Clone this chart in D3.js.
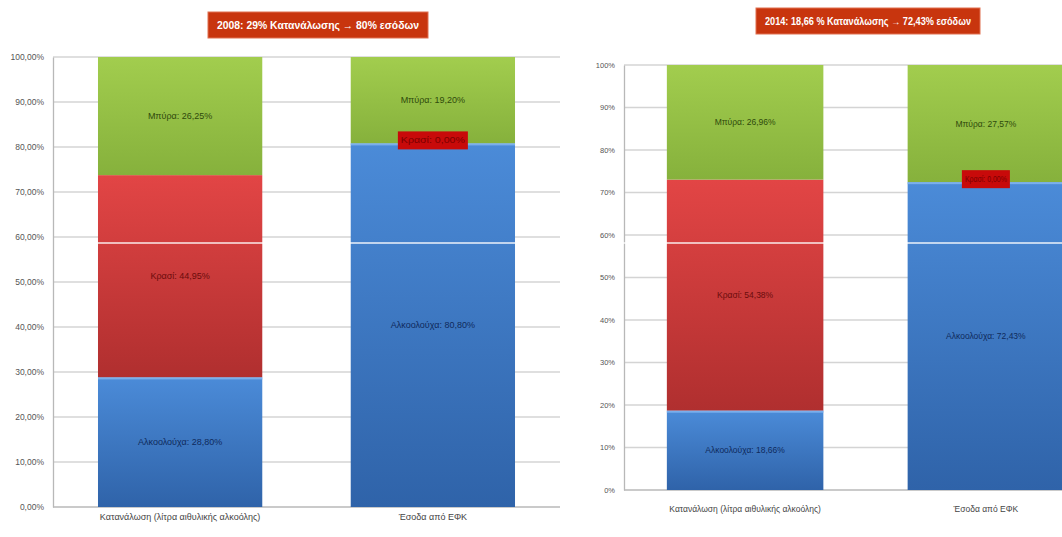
<!DOCTYPE html>
<html><head><meta charset="utf-8">
<script src="https://cdn.jsdelivr.net/npm/d3@7/dist/d3.min.js"></script>
<style>body{margin:0;background:#fff;}svg{display:block;font-family:"Liberation Sans Narrow","Liberation Sans",Arial,sans-serif;}</style>
</head><body><svg id="c" width="1062" height="537"></svg>
<script>
const categories = ["Κατανάλωση (λίτρα αιθυλικής αλκοόλης)", "Έσοδα από ΕΦΚ"];
const seriesNames = ["Αλκοολούχα", "Κρασί", "Μπύρα"];
const alcohol2008 = [28.80, 80.80];
const wine2008 = [44.95, 0.00];
const beer2008 = [26.25, 19.20];
const alcohol2014 = [18.66, 72.43];
const wine2014 = [54.38, 0.00];
const beer2014 = [26.96, 27.57];
const tickValues = [0, 10, 20, 30, 40, 50, 60, 70, 80, 90, 100];
const ticks2008 = ["0,00%", "10,00%", "20,00%", "30,00%", "40,00%", "50,00%", "60,00%", "70,00%", "80,00%", "90,00%", "100,00%"];
const ticks2014 = ["0%", "10%", "20%", "30%", "40%", "50%", "60%", "70%", "80%", "90%", "100%"];
const title2008 = "2008: 29% Κατανάλωσης \u2192 80% εσόδων";
const title2014 = "2014:  18,66 % Κατανάλωσης \u2192 72,43% εσόδων";

const svg = d3.select("#c");
const defs = svg.append("defs");
const grads = [
  {id:"gBlue", c0:"#4b8bd8", c1:"#2f63a9"},
  {id:"gRed", c0:"#e24545", c1:"#b02f2f"},
  {id:"gGreen", c0:"#a2cd4e", c1:"#86b13c"}
];
grads.forEach(g => {
  const lg = defs.append("linearGradient").attr("id", g.id).attr("x1",0).attr("y1",0).attr("x2",0).attr("y2",1);
  lg.append("stop").attr("offset","0%").attr("stop-color", g.c0);
  lg.append("stop").attr("offset","100%").attr("stop-color", g.c1);
});
const fills = ["url(#gBlue)", "url(#gRed)", "url(#gGreen)"];
const labelColors = ["#0f2a5c", "#6a0c0c", "#2f4a0c"];

const fmt = v => d3.format(".2f")(v).replace(".", ",") + "%";

function drawChart(cfg) {
  const g = svg.append("g");
  const y = d3.scaleLinear().domain([0, 100]).range([cfg.y0, cfg.y1]);
  const x = d3.scaleBand().domain(categories).range([cfg.x0, cfg.x1]).paddingInner(0.35).paddingOuter(0.178);
  g.append("g").selectAll("line").data(tickValues).join("line")
    .attr("x1", cfg.x0).attr("x2", Math.min(cfg.x1, 1062))
    .attr("y1", d => y(d)).attr("y2", d => y(d))
    .attr("stroke", d => d === 0 ? "#b8b8b8" : "#d4d4d4").attr("stroke-width", 1.3);
  const ax = g.append("g").attr("transform", `translate(${cfg.x0},0)`)
    .call(d3.axisLeft(y).tickValues(tickValues).tickSize(0).tickPadding(cfg.pad).tickFormat((d, i) => cfg.ticks[i]));
  ax.select(".domain").attr("stroke", "#b8b8b8").attr("stroke-width", 1.3);
  ax.selectAll("text").attr("font-size", cfg.tickFont).attr("fill", "#555");
  const rows = categories.map((c, i) => ({cat: c, [seriesNames[0]]: cfg.a[i], [seriesNames[1]]: cfg.w[i], [seriesNames[2]]: cfg.b[i]}));
  const stack = d3.stack().keys(seriesNames)(rows);
  stack.forEach((layer, si) => {
    g.append("g").selectAll("rect").data(layer).join("rect")
      .attr("x", d => x(d.data.cat)).attr("width", x.bandwidth())
      .attr("y", d => y(d[1])).attr("height", d => y(d[0]) - y(d[1]))
      .attr("fill", fills[si]);
  });
  stack[0].forEach(d => {
    g.append("rect").attr("x", x(d.data.cat)).attr("width", x.bandwidth())
      .attr("y", y(d[1])).attr("height", 2).attr("fill", "#7fb2ee").attr("opacity", 0.9);
  });
  stack.forEach((layer, si) => {
    layer.forEach(d => {
      const v = d[1] - d[0];
      const cx = x(d.data.cat) + x.bandwidth() / 2;
      const txt = seriesNames[si] + ": " + fmt(v);
      if (v > 0.5) {
        g.append("text").attr("x", cx).attr("y", (y(d[0]) + y(d[1])) / 2 + 3)
          .attr("text-anchor", "middle").attr("font-size", cfg.labFont).attr("fill", labelColors[si]).text(txt);
      } else {
        const yy = y(d[1]) - 3;
        const bw = cfg.boxW;
        g.append("rect").attr("x", cx - bw / 2).attr("y", yy - 9).attr("width", bw).attr("height", 18).attr("fill", "#c80a0a");
        g.append("text").attr("x", cx).attr("y", yy + 3)
          .attr("text-anchor", "middle").attr("font-size", cfg.labFont).attr("fill", "#7a0000")
          .attr("textLength", bw - 6).attr("lengthAdjust", "spacingAndGlyphs").text(txt);
      }
    });
  });
  g.append("g").selectAll("text").data(categories).join("text")
    .attr("x", d => x(d) + x.bandwidth() / 2).attr("y", cfg.y0 + cfg.catOff)
    .attr("text-anchor", "middle").attr("font-size", cfg.catFont).attr("fill", "#444").text(d => d);
  g.append("rect").attr("x", cfg.tx - cfg.tw / 2).attr("y", cfg.ty - 13).attr("width", cfg.tw).attr("height", 26)
    .attr("fill", "#c8350e").attr("stroke", "#e07050").attr("stroke-width", 1);
  g.append("text").attr("x", cfg.tx).attr("y", cfg.ty + 4).attr("text-anchor", "middle")
    .attr("font-size", cfg.titleFont).attr("font-weight", "bold").attr("fill", "#fff")
    .attr("textLength", cfg.tw - 18).attr("lengthAdjust", "spacingAndGlyphs").text(cfg.title);
}

drawChart({x0: 53, x1: 560, y0: 507, y1: 57, ticks: ticks2008, a: alcohol2008, w: wine2008, b: beer2008,
  pad: 9, tickFont: 8.5, labFont: 9, catFont: 9, catOff: 13, boxW: 70,
  title: title2008, tx: 318, ty: 25, tw: 220, titleFont: 11});
drawChart({x0: 624, x1: 1107, y0: 490, y1: 65, ticks: ticks2014, a: alcohol2014, w: wine2014, b: beer2014,
  pad: 9, tickFont: 7.5, labFont: 8.5, catFont: 8.5, catOff: 22, boxW: 48,
  title: title2014, tx: 868, ty: 21, tw: 224, titleFont: 10});

svg.append("line").attr("x1", 55).attr("x2", 1062).attr("y1", 243).attr("y2", 243).attr("stroke", "#fff").attr("stroke-width", 1.5).attr("opacity", 0.9);
</script></body></html>
